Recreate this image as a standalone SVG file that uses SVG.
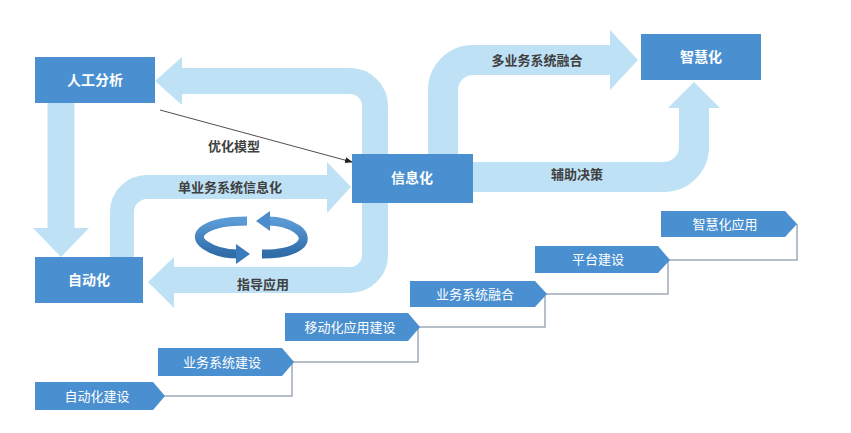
<svg xmlns="http://www.w3.org/2000/svg" width="851" height="433" viewBox="0 0 851 433">
<defs>
<style>
.band{fill:none;stroke:#bfe1f6;}
.head{fill:#bfe1f6;}
.box{fill:#4a8fd0;}
.bt{font-family:"Liberation Sans","Noto Sans CJK SC",sans-serif;font-size:14px;font-weight:bold;fill:#fff;text-anchor:middle;}
.lb{font-family:"Liberation Sans","Noto Sans CJK SC",sans-serif;font-size:13px;font-weight:bold;fill:#404040;text-anchor:middle;}
.st{font-family:"Liberation Sans","Noto Sans CJK SC",sans-serif;font-size:13px;fill:#fff;text-anchor:middle;}
.ln{fill:none;stroke:#a0aab8;stroke-width:1.5;}
</style>
<marker id="ah" markerWidth="8" markerHeight="8" refX="7" refY="4" orient="auto" markerUnits="userSpaceOnUse"><path d="M0,1 L8,4 L0,7 Z" fill="#222"/></marker>
<linearGradient id="cg" x1="0" y1="0" x2="0" y2="1"><stop offset="0" stop-color="#5b9bd5"/><stop offset="1" stop-color="#2f6ca8"/></linearGradient>
</defs>
<rect width="851" height="433" fill="#fff"/>
<g id="connectors">
<path class="band" stroke-width="26" d="M180 81 H350 A25 25 0 0 1 375 106 V255 A25 25 0 0 1 350 280 H173"/>
<polygon class="head" points="182,57 155,81 182,105"/>
<polygon class="head" points="174,257 148,282 174,308"/>
<path class="band" stroke-width="27" d="M61 103 V230"/>
<polygon class="head" points="33,228 61,257 89,228"/>
<path class="band" stroke-width="24" d="M122 257 V212 A25 25 0 0 1 147 187 H329"/>
<polygon class="head" points="327,162 351,187 327,213"/>
<path class="band" stroke-width="30" d="M443 160 V90 A30 30 0 0 1 473 60 H612"/>
<polygon class="head" points="610,30 638,60 610,90"/>
<path class="band" stroke-width="30" d="M470 177 H664 A30 30 0 0 0 694 147 V106"/>
<polygon class="head" points="668,108 694,82 720,108"/>
<line x1="160" y1="110" x2="352" y2="162" stroke="#222" stroke-width="0.8" marker-end="url(#ah)"/>
<path class="ln" d="M163 396 H292 V362"/>
<path class="ln" d="M292 362 H418 V327"/>
<path class="ln" d="M418 327 H545 V294"/>
<path class="ln" d="M545 294 H668 V260"/>
<path class="ln" d="M668 260 H797 V224"/>
</g>
<g id="labels">
<text class="lb" x="537" y="65">多业务系统融合</text>
<text class="lb" x="577" y="179">辅助决策</text>
<text class="lb" x="234" y="151">优化模型</text>
<text class="lb" x="230" y="192">单业务系统信息化</text>
<text class="lb" x="263" y="289">指导应用</text>
</g>
<g id="cycle">
<path d="M247 221 C205 221 190 235 205 245 C215 252 228 254 238 254" fill="none" stroke="url(#cg)" stroke-width="9"/>
<polygon points="236,244 250,254 236,264" fill="#3a7bbd"/>
<path d="M262 254 C300 254 312 240 297 229 C288 223 278 221 268 221" fill="none" stroke="url(#cg)" stroke-width="9"/>
<polygon points="270,211 256,221 270,231" fill="#4a8ccc"/>
</g>
<g id="n-rengong"><rect class="box" x="35" y="57" width="120" height="46"/><text class="bt" x="95" y="85">人工分析</text></g>
<g id="n-zidong"><rect class="box" x="35" y="257" width="108" height="46"/><text class="bt" x="89" y="285">自动化</text></g>
<g id="n-xinxi"><rect class="box" x="352" y="154" width="121" height="49"/><text class="bt" x="412" y="183">信息化</text></g>
<g id="n-zhihui"><rect class="box" x="641" y="34" width="120" height="46"/><text class="bt" x="701" y="62">智慧化</text></g>
<g id="s1"><polygon class="box" points="35,382 153,382 165,396 153,410 35,410"/><text class="st" x="97" y="401">自动化建设</text></g>
<g id="s2"><polygon class="box" points="158,348 282,348 294,362 282,376 158,376"/><text class="st" x="222" y="367">业务系统建设</text></g>
<g id="s3"><polygon class="box" points="285,313 408,313 420,327 408,341 285,341"/><text class="st" x="350" y="332">移动化应用建设</text></g>
<g id="s4"><polygon class="box" points="410,281 535,281 547,294 535,307 410,307"/><text class="st" x="475" y="299">业务系统融合</text></g>
<g id="s5"><polygon class="box" points="535,246 658,246 670,260 658,273 535,273"/><text class="st" x="598" y="264">平台建设</text></g>
<g id="s6"><polygon class="box" points="661,211 785,211 797,224 785,237 661,237"/><text class="st" x="725" y="229">智慧化应用</text></g>
</svg>
